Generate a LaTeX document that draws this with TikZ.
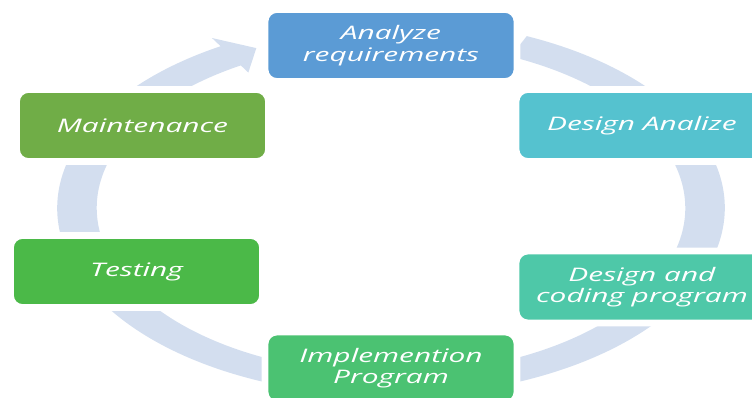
\documentclass[tikz,border=0pt]{standalone}
\usepackage{fontspec}
\newfontfamily\boxfont[FakeStretch=1.6]{Open Sans}
\definecolor{ringblue}{HTML}{D3DEEF}
\definecolor{analyzeblue}{HTML}{5B9BD5}
\definecolor{designcyan}{HTML}{55C2CF}
\definecolor{codingteal}{HTML}{4EC8A8}
\definecolor{implgreen}{HTML}{4BC272}
\definecolor{testgreen}{HTML}{4BB948}
\definecolor{maintgreen}{HTML}{70AD47}
\tikzset{
  stage/.style={rectangle, rounded corners=9pt, draw=white, line width=5pt,
    minimum width=189pt, minimum height=54pt, align=center, text=white,
    font=\boxfont\itshape\fontsize{14}{16}\selectfont}
}
\begin{document}
\begin{tikzpicture}[x=0.75pt, y=-0.75pt]
  \useasboundingbox (0,0) rectangle (752,398);
  \clip (0,0) rectangle (752,398);
  % Circular arrow behind the stages (scaled unit circle)
  \begin{scope}[shift={(391,208)}, x=235.5pt, y=-132.75pt]
    \fill [ringblue] (239.3:1.063) arc[start angle=239.3, end angle=-66, radius=1.063]
      -- (-66:0.937) arc[start angle=-66, end angle=239.3, radius=0.937]
      -- (239.3:0.89) -- (244.6:1.0) -- (239.3:1.117) -- cycle;
  \end{scope}
  % Stages of the cycle
  \node (analyze) at (391,45.5) [stage, fill=analyzeblue] {Analyze\\requirements};
  \node (design) at (642,125.5) [stage, fill=designcyan] {Design Analize};
  \node (coding) at (642,287) [stage, fill=codingteal] {Design and\\coding program};
  \node (implement) at (391,368) [stage, fill=implgreen] {Implemention\\Program};
  \node (testing) at (136.5,271.5) [stage, fill=testgreen] {Testing};
  \node (maintain) at (142.5,125.5) [stage, fill=maintgreen] {Maintenance};
\end{tikzpicture}
\end{document}
